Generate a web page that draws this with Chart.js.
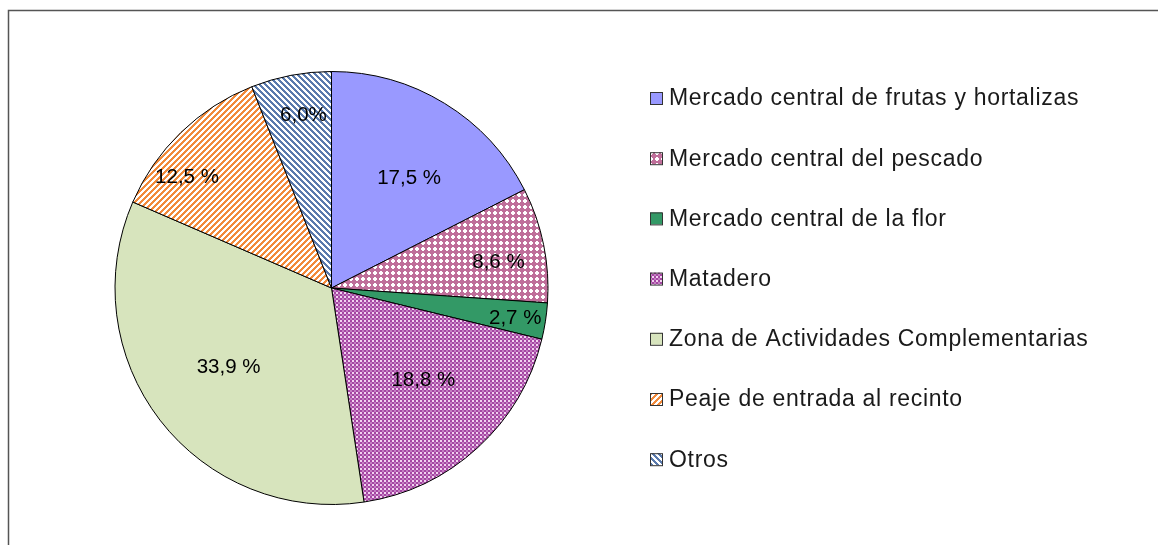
<!DOCTYPE html>
<html>
<head>
<meta charset="utf-8">
<script src="https://cdn.jsdelivr.net/npm/chart.js@4.4.1/dist/chart.umd.min.js"></script>
<style>
  body { margin: 0; background: #fff; }
  #box { width: 1158px; height: 545px; }
</style>
</head>
<body>
<div id="box"><canvas id="pie" width="1158" height="545"></canvas></div>
<script>
const categories = [
  "Mercado central de frutas y hortalizas",
  "Mercado central del pescado",
  "Mercado central de la flor",
  "Matadero",
  "Zona de Actividades Complementarias",
  "Peaje de entrada al recinto",
  "Otros",
];
const values = [17.5, 8.6, 2.7, 18.8, 33.9, 12.5, 6.0];
const valueLabels = ["17,5 %", "8,6 %", "2,7 %", "18,8 %", "33,9 %", "12,5 %", "6,0%"];

// where each percentage sits: fraction of radius, angle nudge in degrees
const labelRadius = [0.62, 0.78, 0.86, 0.6, 0.6, 0.84, 0.81];
const labelNudge = [3.8, 2.9, 0.5, -2.5, 0, -8.5, 1.6];

function tile(size, draw) {
  const c = document.createElement("canvas");
  c.width = size;
  c.height = size;
  draw(c.getContext("2d"), size);
  return document.getElementById("pie").getContext("2d").createPattern(c, "repeat");
}

const pescado = tile(6, (g, s) => {
  g.fillStyle = "#bf6f9a";
  g.fillRect(0, 0, s, s);
  g.fillStyle = "#ffffff";
  g.fillRect(2, 1, 2, 4);
  g.fillRect(1, 2, 4, 2);
});
const matadero = tile(4, (g, s) => {
  g.fillStyle = "#a546a3";
  g.fillRect(0, 0, s, s);
  g.fillStyle = "#f2d2f0";
  g.fillRect(0, 0, 2, 2);
  g.fillStyle = "#c47fc2";
  g.fillRect(2, 2, 2, 2);
});
function stripes(size, color, down) {
  return tile(size, (g, s) => {
    g.fillStyle = "#ffffff";
    g.fillRect(0, 0, s, s);
    g.fillStyle = color;
    for (let i = 0; i < s; i++) {
      const y = down ? i : s - 1 - i;
      for (const k of [-s, 0, s]) g.fillRect(i + k, y, 3, 1);
    }
  });
}
const peaje = stripes(6, "#f28a3a", false);
const otros = stripes(6, "#5a7aad", true);

const fills = ["#9999ff", pescado, "#339966", matadero, "#d7e4bd", peaje, otros];

const decor = {
  id: "decor",
  beforeDraw(chart) {
    const c = chart.ctx;
    c.save();
    c.strokeStyle = "#555";
    c.lineWidth = 1.5;
    c.strokeRect(8.5, 10.5, 1200, 600);
    c.restore();
  },
  afterDatasetsDraw(chart) {
    const c = chart.ctx;
    const meta = chart.getDatasetMeta(0);
    c.save();
    c.font = '20.5px "Liberation Sans", Arial, sans-serif';
    c.fillStyle = "#000";
    c.textAlign = "center";
    c.textBaseline = "middle";
    meta.data.forEach((arc, i) => {
      const p = arc.getProps(["x", "y", "startAngle", "endAngle", "outerRadius"], true);
      const a = (p.startAngle + p.endAngle) / 2 + labelNudge[i] * Math.PI / 180;
      const r = p.outerRadius * labelRadius[i];
      c.fillText(valueLabels[i], p.x + Math.cos(a) * r, p.y + Math.sin(a) * r);
    });

    // legend
    c.font = '23px "Liberation Sans", Arial, sans-serif';
    c.letterSpacing = "0.7px";
    c.textAlign = "left";
    categories.forEach((name, i) => {
      const y = 98 + i * 60.2;
      c.fillStyle = fills[i];
      c.fillRect(650, y - 6, 12, 12);
      c.strokeStyle = "#333";
      c.lineWidth = 1;
      c.strokeRect(650.5, y - 5.5, 12, 12);
      c.fillStyle = "#1a1a1a";
      c.fillText(name, 669, y + 1);
    });
    c.restore();
  },
};

new Chart(document.getElementById("pie"), {
  type: "pie",
  data: {
    labels: categories,
    datasets: [{
      data: values,
      backgroundColor: fills,
      borderColor: "#000",
      borderWidth: 1,
    }],
  },
  options: {
    responsive: false,
    animation: false,
    layout: { padding: { left: 114, right: 609, top: 71, bottom: 40 } },
    plugins: {
      legend: { display: false },
      tooltip: { enabled: false },
    },
  },
  plugins: [decor],
});
</script>
</body>
</html>
